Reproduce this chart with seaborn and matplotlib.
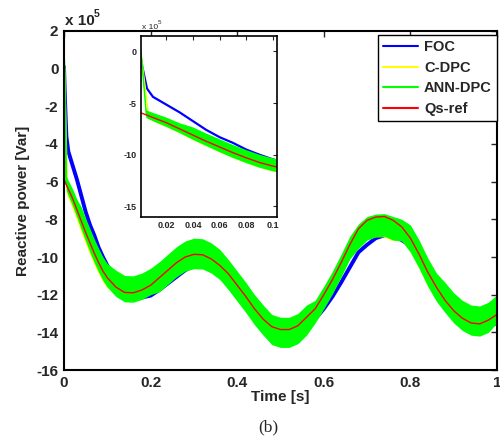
import numpy as np
import pandas as pd
import seaborn as sns
import matplotlib
matplotlib.use("Agg")
import matplotlib.pyplot as plt
from matplotlib.lines import Line2D

# ---------------- data (reactive power in units of 1e5 Var) ----------------
grid_t = [0.00, 0.01, 0.02, 0.03, 0.04, 0.05, 0.06, 0.07, 0.08, 0.09, 0.10,
          0.12, 0.14, 0.16, 0.18, 0.20, 0.22, 0.24, 0.26, 0.28, 0.30,
          0.32, 0.34, 0.36, 0.38, 0.40, 0.42, 0.44, 0.46, 0.48, 0.50,
          0.52, 0.54, 0.56, 0.58, 0.60, 0.62, 0.64, 0.66, 0.68, 0.70,
          0.72, 0.74, 0.76, 0.78, 0.80, 0.82, 0.84, 0.86, 0.88, 0.90,
          0.92, 0.94, 0.96, 0.98, 1.00]

qs_ref = [-5.9, -6.4, -6.9, -7.5, -8.1, -8.7, -9.25, -9.8, -10.3, -10.75, -11.1,
          -11.6, -11.88, -11.9, -11.75, -11.5, -11.1, -10.7, -10.3, -10.0, -9.86,
          -9.88, -10.1, -10.45, -10.9, -11.5, -12.1, -12.75, -13.3, -13.7, -13.85,
          -13.85, -13.65, -13.2, -12.75, -12.0, -11.2, -10.3, -9.35, -8.5, -8.05,
          -7.88, -7.85, -8.05, -8.4, -9.0, -9.85, -10.8, -11.6, -12.3, -12.85,
          -13.25, -13.5, -13.55, -13.35, -13.05]

# ANN-DPC noisy band (upper / lower envelope) and start transient
ann_t = [0.0, 0.001, 0.005] + grid_t[1:]
ann_hi = [0.5, 0.1, -5.7,
          -5.95, -6.4, -6.95, -7.35, -7.95, -8.5, -9.05, -9.55, -10.0, -10.35,
          -10.7, -10.98, -11.0, -10.85, -10.6, -10.25, -9.85, -9.45, -9.15, -9.0,
          -9.03, -9.25, -9.6, -10.15, -10.75, -11.35, -12.0, -12.55, -13.05, -13.2,
          -13.2, -13.0, -12.55, -12.3, -11.55, -10.75, -9.85, -8.9, -8.25, -7.85,
          -7.72, -7.7, -7.85, -8.0, -8.3, -9.1, -10.05, -10.85, -11.35, -11.9,
          -12.3, -12.55, -12.6, -12.4, -12.0]
ann_lo = [0.3, -0.1, -6.45,
          -6.75, -7.3, -7.9, -8.55, -9.15, -9.75, -10.3, -10.8, -11.25, -11.6,
          -12.1, -12.38, -12.4, -12.25, -12.0, -11.85, -11.45, -11.05, -10.75, -10.62,
          -10.64, -10.85, -11.2, -11.75, -12.35, -12.95, -13.6, -14.15, -14.65, -14.8,
          -14.8, -14.6, -14.15, -13.5, -12.75, -11.95, -11.05, -10.1, -9.55, -9.1,
          -8.93, -8.9, -9.1, -9.15, -9.75, -10.6, -11.55, -12.35, -12.95, -13.5,
          -13.9, -14.15, -14.2, -14.0, -13.5]
ann_start_t = [0.0, 0.001, 0.005]
ann_start_v = [0.5, 0.0, -6.1]

# C-DPC
cdpc_t = [0.0, 0.001, 0.0058, 0.0065] + grid_t[1:]
cdpc = [0.3, -0.2, -5.2, -6.1,
        -6.7, -7.25, -7.85, -8.5, -9.1, -9.7, -10.25, -10.75, -11.2, -11.55,
        -11.95, -12.25, -12.3, -12.15, -11.95, -11.65, -11.25, -10.9, -10.6, -10.5,
        -10.5, -10.7, -11.05, -11.6, -12.2, -12.8, -13.45, -14.0, -14.45, -14.55,
        -14.55, -14.35, -13.95, -13.4, -12.65, -11.85, -11.0, -10.05, -9.45, -9.05,
        -8.9, -8.9, -9.1, -9.05, -9.6, -10.45, -11.4, -12.2, -12.8, -13.35,
        -13.75, -14.0, -14.05, -13.85, -13.35]

# FOC
foc_t = [0.0, 0.002, 0.0055] + grid_t[1:]
foc = [0.1, -1.5, -3.6,
       -4.4, -5.15, -5.9, -6.75, -7.6, -8.3, -8.85, -9.5, -10.0, -10.45,
       -11.2, -11.7, -12.05, -12.15, -12.05, -11.75, -11.4, -11.05, -10.7, -10.45,
       -10.35, -10.45, -10.75, -11.15, -11.7, -12.35, -13.0, -13.6, -14.0, -14.2,
       -14.2, -14.05, -13.75, -13.3, -12.75, -12.1, -11.35, -10.55, -9.75, -9.35,
       -9.0, -8.85, -8.9, -9.1, -9.4, -10.1, -10.95, -11.75, -12.45, -13.0,
       -13.4, -13.65, -13.75, -13.7, -13.5]

legend_labels = ["FOC", "C-DPC", "ANN-DPC", "Qs-ref"]
colors = {"FOC": "#0000ff", "C-DPC": "#ffff00", "ANN-DPC": "#00ff00", "Qs-ref": "#ff0000"}

main_xticks = [0, 0.2, 0.4, 0.6, 0.8, 1.0]
main_xticklabels = ["0", "0.2", "0.4", "0.6", "0.8", "1"]
main_yticks = [2, 0, -2, -4, -6, -8, -10, -12, -14, -16]
inset_xticks = [0.02, 0.04, 0.06, 0.08, 0.1]
inset_xticklabels = ["0.02", "0.04", "0.06", "0.08", "0.1"]
inset_yticks = [0, -5, -10, -15]

# ---------------- style ----------------
sns.set_style("white")
plt.rcParams["font.family"] = ["Liberation Sans", "DejaVu Sans"]
plt.rcParams["axes.unicode_minus"] = False

fig = plt.figure(figsize=(5.0, 4.48), dpi=100)
ax = fig.add_axes([0.128, 0.174, 0.866, 0.757])
axi = fig.add_axes([0.282, 0.516, 0.272, 0.404])

df_ref = pd.DataFrame({"t": grid_t, "q": qs_ref})
df_foc = pd.DataFrame({"t": foc_t, "q": foc})
df_cdpc = pd.DataFrame({"t": cdpc_t, "q": cdpc})
df_ann0 = pd.DataFrame({"t": ann_start_t, "q": ann_start_v})


def draw(a, lw_foc, lw_c, lw_ref):
    sns.lineplot(data=df_foc, x="t", y="q", ax=a, color=colors["FOC"],
                 lw=lw_foc, estimator=None, sort=False, zorder=1.0)
    sns.lineplot(data=df_cdpc, x="t", y="q", ax=a, color=colors["C-DPC"],
                 lw=lw_c, estimator=None, sort=False, zorder=1.1)
    a.fill_between(ann_t, ann_lo, ann_hi, color=colors["ANN-DPC"], lw=0, zorder=1.5)
    sns.lineplot(data=df_ann0, x="t", y="q", ax=a, color=colors["ANN-DPC"],
                 lw=lw_c, estimator=None, sort=False, zorder=1.6)
    sns.lineplot(data=df_ref, x="t", y="q", ax=a, color=colors["Qs-ref"],
                 lw=lw_ref, estimator=None, sort=False, zorder=3)


draw(ax, 2.8, 1.5, 1.0)
draw(axi, 1.6, 1.0, 1.0)

# main axes formatting
ax.set_xlim(0, 1)
ax.set_ylim(-16, 2)
ax.set_xticks(main_xticks)
ax.set_xticklabels(main_xticklabels)
ax.set_yticks(main_yticks)
ax.set_yticklabels([str(v) for v in main_yticks])
ax.tick_params(direction="in", length=4, width=1.0, top=True, right=True,
               labelsize=11, pad=4)
for lab in ax.get_xticklabels() + ax.get_yticklabels():
    lab.set_fontweight("bold")
for s in ax.spines.values():
    s.set_visible(True)
    s.set_linewidth(1.5)
    s.set_color("black")
    s.set_zorder(5)
ax.set_xlabel("Time [s]", fontsize=11, fontweight="bold")
ax.set_ylabel("Reactive power [Var]", fontsize=11, fontweight="bold")
ax.xaxis.set_label_coords(0.5, -0.058)
ax.yaxis.set_label_coords(-0.079, 0.5)

fig.text(0.130, 0.945, "x 10", fontsize=11, fontweight="bold", ha="left", va="baseline")
fig.text(0.188, 0.962, "5", fontsize=7.5, fontweight="bold", ha="left", va="baseline")

# inset formatting
axi.set_xlim(0.001, 0.103)
axi.set_ylim(-16, 1.5)
axi.set_xticks(inset_xticks)
axi.set_xticklabels(inset_xticklabels)
axi.set_yticks(inset_yticks)
axi.set_yticklabels([str(v) for v in inset_yticks])
axi.tick_params(direction="in", length=3, width=0.8, top=True, right=True,
                labelsize=6.5, pad=3)
for lab in axi.get_xticklabels() + axi.get_yticklabels():
    lab.set_fontweight("bold")
for s in axi.spines.values():
    s.set_visible(True)
    s.set_linewidth(1.2)
    s.set_color("black")
    s.set_zorder(5)
axi.set_xlabel("")
axi.set_ylabel("")
fig.text(0.283, 0.936, "x 10", fontsize=6, ha="left", va="baseline")
fig.text(0.316, 0.946, "5", fontsize=4.5, ha="left", va="baseline")

# legend
handles = [Line2D([0], [0], color=colors[k], lw=1.5) for k in legend_labels]
leg = ax.legend(handles, legend_labels, loc="upper right",
                bbox_to_anchor=(1.0, 0.988), borderaxespad=0,
                prop={"weight": "bold", "size": 10.5}, fancybox=False,
                framealpha=1, edgecolor="black", handlelength=2.4,
                handletextpad=0.4, labelspacing=0.45, borderpad=0.35)
leg.get_frame().set_linewidth(1.0)
leg.set_zorder(10)

fig.text(0.536, 0.045, "(b)", fontsize=12.5, family=["Liberation Serif", "DejaVu Serif"],
         ha="center", va="center")

fig.savefig("out.png", dpi=100)
